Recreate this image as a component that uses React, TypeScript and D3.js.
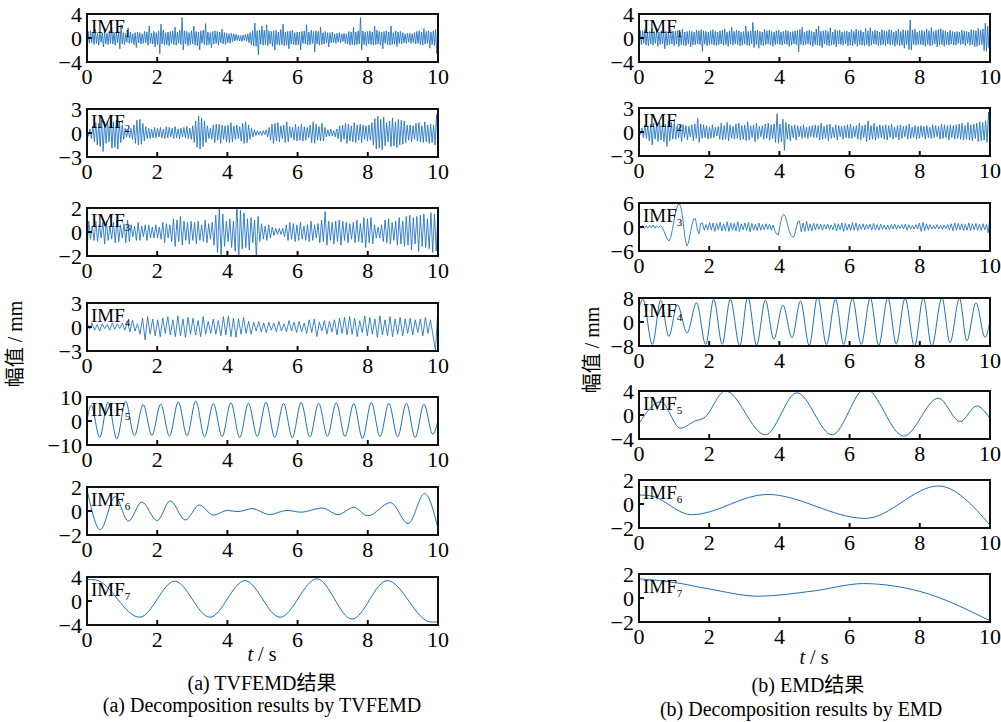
import * as d3 from 'd3';

// time axis ticks (s) and symmetric y limits per subplot
const xTicks = [0, 2, 4, 6, 8, 10];
const leftLimits = [4, 3, 2, 3, 10, 2, 4];
const rightLimits = [4, 3, 6, 8, 4, 2, 2];

// ---- TVFEMD (left column), equally spaced samples over 0..10 s ----
const imf1A = [
  -2.0, 1.1, -0.9, 1.2, -0.8, 1.0, -1.1, 1.5, -0.9, 0.8, -1.2, 1.0, -0.7, 0.9, -1.5, 1.1, -1.0, 0.8, -1.1, 1.2, -0.9, 1.8, -1.0, 0.9, -1.2, 1.0, -0.8, 1.1, -1.8, 2.2,
  -1.0, 0.9, -1.1, 0.8, -0.7, 1.7, -0.9, 1.0, -0.8, 0.7, -1.1, 0.9, -1.6, 1.0, -0.8, 0.9, -1.0, 0.7, -0.9, 1.1, -0.8, 1.0, -1.2, 2.0, -0.9, 0.8, -1.0, 1.1, -1.5, 0.9,
  -1.1, 1.2, -2.6, 2.3, -1.0, 1.3, -1.2, 0.9, -1.1, 1.0, -1.3, 1.1, -0.9, 1.2, -1.1, 1.8, -1.2, 1.0, -0.9, 1.3, -1.1, 3.4, -2.0, 1.2, -1.0, 1.1, -1.3, 0.9, -1.1, 1.2,
  -1.0, 2.0, -1.2, 1.1, -1.3, 1.0, -2.0, 1.2, -0.9, 1.3, -1.1, 2.4, -1.2, 1.0, -1.1, 0.9, -1.6, 1.1, -1.0, 1.2, -0.9, 1.1, -1.2, 1.0, -0.8, 1.5, -1.0, 0.9, -1.1, 0.8,
  -0.8, 0.7, -0.9, 0.8, -0.6, 0.7, -0.5, 0.6, -0.4, 0.5, -0.5, 0.4, -0.6, 0.5, -0.4, 0.6, -0.5, 0.7, -0.8, 0.9, -1.1, 1.2, -1.3, 2.5, -1.4, 1.2, -2.8, 1.3, -1.0, 2.0,
  -1.2, 1.3, -1.1, 2.2, -1.3, 1.2, -1.0, 1.1, -1.4, 1.2, -2.0, 1.3, -1.1, 1.0, -1.2, 1.4, -1.1, 2.3, -1.3, 1.0, -1.2, 1.1, -1.8, 1.2, -1.0, 1.3, -1.1, 0.9, -1.2, 1.0,
  -1.1, 1.0, -2.0, 1.1, -0.9, 1.2, -1.0, 2.2, -1.2, 1.0, -1.1, 1.3, -0.9, 1.1, -2.3, 1.2, -1.0, 1.1, -1.2, 1.8, -1.1, 0.9, -1.0, 1.1, -0.8, 0.9, -1.5, 0.9, -0.8, 1.0,
  -0.8, 0.7, -0.9, 0.8, -0.7, 0.9, -0.8, 0.7, -0.6, 0.8, -0.9, 0.7, -1.0, 1.1, -1.2, 1.0, -1.1, 1.8, -1.2, 1.0, -1.1, 1.2, -1.0, 3.4, -2.0, 1.2, -1.1, 1.0, -1.3, 1.1,
  -1.0, 1.2, -1.1, 1.0, -1.2, 2.0, -1.1, 1.3, -1.0, 1.1, -1.2, 1.0, -1.8, 1.1, -0.9, 1.2, -1.1, 1.0, -1.2, 2.0, -1.1, 0.9, -1.0, 1.2, -1.4, 1.0, -0.9, 1.1, -1.0, 0.9,
  -0.8, 0.7, -0.9, 0.8, -0.7, 0.8, -0.9, 0.7, -0.8, 0.9, -1.0, 1.1, -0.9, 1.2, -1.1, 1.0, -1.2, 1.6, -1.0, 1.1, -0.9, 1.2, -1.7, 1.0, -1.1, 1.2, -1.3, 1.4, -2.6, 2.3,
];

const imf2A = [
  0.3, -0.4, 0.5, -0.7, 0.9, -1.1, 1.3, -1.5, 1.2, -1.7, 1.6, -2.3, 1.4, -1.3, 1.5, -1.1, 1.7, -1.9, 1.4, -1.8, 1.6, -2.0, 1.5, -1.2,
  1.0, -0.8, 0.6, -0.5, 0.5, -0.6, 0.6, -0.8, 1.0, -1.3, 1.6, -1.5, 1.7, -1.4, 1.2, -1.0, 0.8, -0.7, 0.6, -0.7, 0.5, -0.6, 0.7, -0.6,
  0.6, -0.5, 0.7, -0.6, 0.5, -0.7, 0.8, -0.6, 0.7, -0.5, 0.6, -0.7, 0.8, -0.6, 0.5, -0.7, 0.6, -0.5, 0.7, -0.6, 0.8, -0.7, 0.6, -0.8,
  0.9, -1.2, 1.5, -1.8, 2.1, -2.0, 1.9, -1.7, 1.5, -1.2, 0.9, -0.7, 0.6, -0.8, 1.0, -1.2, 1.1, -0.9, 1.1, -1.3, 1.0, -0.8, 0.9, -1.1,
  1.0, -1.2, 1.3, -1.1, 0.9, -0.8, 1.0, -0.7, 0.8, -1.0, 1.2, -1.3, 1.4, -1.2, 1.0, -0.8, 0.6, -0.5, 0.4, -0.3, 0.3, -0.2, 0.2, -0.3,
  0.3, -0.2, 0.4, -0.5, 0.7, -0.9, 1.1, -1.3, 1.2, -1.0, 1.3, -1.1, 0.9, -0.7, 1.0, -1.2, 1.4, -1.1, 0.8, -0.6, 0.7, -0.9, 1.1, -1.0,
  0.8, -0.9, 1.1, -1.0, 0.8, -0.9, 0.7, -0.6, 1.0, -1.2, 1.4, -1.3, 1.1, -0.9, 0.8, -1.0, 1.2, -1.0, 0.7, -0.5, 0.4, -0.4, 0.5, -0.4,
  0.3, -0.5, 0.5, -0.7, 0.9, -1.1, 1.0, -0.8, 1.2, -1.3, 1.1, -1.0, 0.9, -1.1, 1.3, -1.2, 1.0, -0.9, 1.1, -1.2, 1.0, -0.8, 0.9, -1.0,
  1.0, -0.9, 1.3, -1.5, 1.8, -2.0, 2.1, -1.9, 1.7, -2.1, 2.0, -1.6, 1.3, -1.1, 1.5, -1.7, 1.9, -1.6, 1.4, -1.8, 1.7, -1.5, 1.6, -1.4,
  1.5, -1.2, 1.0, -0.9, 1.0, -1.1, 0.9, -0.8, 1.2, -1.0, 1.3, -1.1, 0.9, -1.2, 1.4, -1.1, 1.0, -1.3, 1.1, -1.2, 1.0, -1.5, 2.3, -2.1,
];

const imf3A = [
  -1.5, 0.9, -0.6, 0.5, -0.7, 0.9, -0.8, 0.6, -0.5, 0.8, -1.0, 0.9, -0.7, 0.5, -0.6, 0.8, -0.9, 1.0, -0.8, 0.6,
  -0.5, 0.7, -0.9, 1.0, -0.8, 0.6, -0.4, 0.5, -0.7, 0.8, -0.7, 0.5, -0.4, 0.6, -0.7, 0.6, -0.5, 0.4, -0.5, 0.6,
  -0.5, 0.4, -0.6, 0.8, -0.9, 0.7, -0.5, 0.6, -0.8, 1.1, -1.2, 1.0, -0.8, 1.3, -1.1, 0.9, -0.7, 0.8, -1.0, 0.9,
  -0.7, 0.8, -1.0, 0.9, -0.7, 0.6, -0.8, 1.0, -0.9, 0.7, -0.6, 0.8, -1.1, 1.4, -1.7, 2.0, -1.9, 1.5, -1.2, 0.9,
  -0.8, 1.1, -1.3, 0.9, -1.6, 2.6, -2.5, 1.8, -1.4, 1.6, -1.3, 1.1, -1.5, 1.2, -0.9, 1.0, -2.0, 1.3, -0.8, 0.7,
  -0.6, 0.5, -0.7, 0.6, -0.5, 0.4, -0.3, 0.3, -0.2, 0.3, -0.2, 0.3, -0.4, 0.6, -0.7, 0.8, -0.6, 0.7, -0.8, 0.6,
  -0.7, 0.8, -0.6, 0.5, -0.7, 0.6, -0.8, 0.9, -0.7, 0.6, -0.5, 0.7, -0.9, 1.0, -0.8, 1.7, -1.1, 0.9, -0.7, 0.8,
  -1.0, 0.9, -0.8, 1.0, -1.1, 0.9, -0.7, 0.8, -0.9, 0.7, -0.6, 0.8, -0.9, 1.0, -0.8, 0.7, -0.9, 1.2, -1.3, 1.1,
  -0.9, 1.2, -1.0, 0.6, -0.5, 0.4, -0.5, 0.6, -0.8, 1.0, -0.9, 1.1, -1.0, 0.8, -0.7, 0.9, -1.1, 1.2, -1.0, 0.9,
  -1.2, 1.3, -1.1, 1.4, -1.5, 1.2, -1.0, 1.3, -1.6, 1.4, -1.2, 1.5, -1.3, 1.1, -1.4, 1.6, -1.7, 1.5, -1.6, 1.8,
];

const imf4A = [
  0.6, -0.3, 0.5, -0.4, 0.3, -0.5, 0.4, -0.2, 0.3, -0.4, 0.5, -0.3, 0.4, -0.2,
  0.5, -0.4, 0.7, -0.6, 0.9, -0.5, 0.4, -0.9, 1.1, -1.6, 1.3, -0.9, 1.0, -1.1,
  0.9, -1.2, 1.1, -0.8, 1.3, -1.0, 0.9, -1.2, 1.4, -1.1, 1.0, -1.3, 1.2, -0.9,
  1.1, -1.0, 0.8, -1.2, 1.3, -0.9, 0.7, -0.8, 1.0, -0.9, 0.8, -1.1, 1.3, -1.0,
  1.4, -1.2, 1.1, -1.3, 1.0, -0.9, 1.2, -0.8, 0.7, -0.9, 0.6, -0.5, 0.7, -0.6,
  0.5, -0.7, 0.6, -0.4, 0.5, -0.6, 0.7, -0.5, 0.4, -0.6, 0.8, -0.5, 0.6, -0.7,
  0.7, -0.6, 0.5, -0.8, 0.9, -0.7, 1.0, -1.2, 0.6, -0.5, 0.8, -0.9, 0.7, -0.6,
  0.9, -1.0, 1.1, -0.8, 1.2, -1.0, 1.3, -0.9, 1.1, -1.2, 0.8, -0.7, 1.4, -1.1,
  1.2, -0.9, 1.0, -1.3, 1.4, -1.0, 0.9, -1.1, 1.3, -1.2, 1.0, -0.9, 1.2, -1.1,
  1.0, -0.8, 1.1, -1.0, 0.9, -0.7, 1.0, -1.1, 1.2, -0.8, 0.9, -1.0, -3.0, 2.6,
];

// smooth modes: extrema [t, value]
const imf5A: [number, number][] = [
  [0, 0.3], [0.12, 6.5], [0.36, -6.8], [0.6, 7.8], [0.85, -7.4], [1.1, 8.2], [1.35, -6.2], [1.6, 6.8],
  [1.85, -6.0], [2.1, 7.0], [2.35, -6.3], [2.6, 7.9], [2.85, -6.1], [3.1, 8.3], [3.35, -6.6], [3.6, 7.2],
  [3.85, -6.5], [4.1, 7.6], [4.35, -6.9], [4.6, 7.4], [4.85, -6.4], [5.1, 7.8], [5.35, -6.8], [5.6, 7.3],
  [5.85, -6.9], [6.1, 7.7], [6.35, -6.6], [6.6, 7.4], [6.85, -6.3], [7.1, 7.6], [7.35, -6.4], [7.6, 7.2],
  [7.85, -7.3], [8.1, 7.7], [8.35, -6.5], [8.6, 7.3], [8.85, -6.6], [9.1, 7.4], [9.35, -6.9], [9.6, 7.0],
  [9.85, -5.5], [10, 0.2],
];
const imf6A: [number, number][] = [
  [0, 1.8], [0.38, -1.55], [0.8, 1.2], [1.18, -0.85], [1.56, 0.75], [2.0, -0.8], [2.37, 0.85], [2.8, -0.75],
  [3.2, 0.5], [3.6, -0.35], [4.0, 0.05], [4.3, -0.05], [4.7, 0.2], [5.2, -0.3], [5.7, 0.05], [6.1, -0.1],
  [6.7, 0.25], [7.15, -0.3], [7.6, 0.3], [8.0, -0.4], [8.65, 0.7], [9.15, -1.05], [9.62, 1.45], [10, -1.45],
];
const imf7A: [number, number][] = [
  [0, 3.6], [0.25, 3.5], [1.5, -2.7], [2.5, 3.3], [3.5, -2.7], [4.5, 3.4], [5.5, -2.7],
  [6.55, 3.7], [7.55, -3.0], [8.55, 3.4], [9.8, -3.5], [10, -3.5],
];

// ---- EMD (right column) ----
const imf1B = [
  -2.0, 1.3, -1.1, 1.2, -0.9, 1.4, -1.2, 1.0, -1.3, 1.1, -1.0, 1.6, -1.2, 1.1, -0.9, 1.3, -1.4, 1.0, -1.1, 1.2, -1.0, 1.3, -1.8, 1.1, -1.2, 1.0, -1.1, 1.4, -1.0, 1.2,
  -1.3, 1.1, -1.0, 1.2, -1.4, 1.0, -1.1, 1.5, -1.2, 1.0, -1.3, 1.1, -1.0, 1.2, -1.5, 1.1, -1.2, 1.0, -1.1, 1.3, -1.0, 1.2, -1.1, 1.4, -2.2, 1.2, -1.0, 1.1, -1.3, 1.0,
  -1.1, 1.2, -1.0, 1.4, -1.2, 1.1, -1.3, 1.0, -1.1, 1.2, -1.0, 1.3, -1.2, 1.5, -1.1, 1.0, -1.4, 1.2, -1.0, 1.8, -1.2, 1.1, -1.0, 1.3, -1.1, 1.2, -1.3, 1.0, -1.2, 1.1,
  -1.0, 2.0, -1.2, 1.1, -1.3, 1.2, -1.0, 2.6, -1.6, 1.2, -1.1, 1.3, -1.7, 1.1, -1.2, 1.0, -1.3, 1.5, -1.1, 1.2, -1.0, 1.3, -1.2, 1.1, -1.4, 1.0, -1.1, 1.2, -1.0, 1.3,
  -1.1, 1.0, -1.2, 1.1, -1.0, 1.3, -1.1, 1.2, -1.4, 1.0, -1.2, 1.1, -1.0, 1.2, -1.1, 1.3, -2.3, 1.4, -1.1, 1.8, -1.2, 1.0, -1.1, 1.2, -1.0, 1.3, -1.2, 1.1, -1.4, 1.0,
  -1.1, 1.5, -1.2, 2.0, -1.3, 1.1, -1.6, 1.2, -1.0, 1.3, -1.2, 1.1, -1.3, 1.7, -1.2, 1.0, -1.1, 1.4, -1.5, 1.2, -1.0, 1.3, -1.1, 1.0, -1.2, 1.1, -1.0, 1.2, -1.3, 1.0,
  -1.2, 1.4, -1.3, 1.1, -1.0, 1.5, -1.4, 1.2, -1.1, 1.3, -1.2, 1.0, -1.3, 1.6, -1.1, 1.2, -1.4, 1.7, -1.2, 1.1, -1.0, 1.3, -1.1, 1.2, -1.3, 1.0, -1.2, 1.4, -1.1, 1.2,
  -1.3, 1.1, -1.0, 1.4, -1.2, 1.3, -1.1, 1.0, -1.4, 1.2, -1.1, 1.5, -1.3, 1.1, -1.2, 1.4, -1.7, 1.2, -1.1, 1.3, -1.9, 3.0, -2.0, 1.3, -1.1, 1.5, -1.2, 1.0, -1.1, 1.2,
  -1.1, 1.3, -1.2, 1.1, -1.4, 1.5, -1.1, 1.2, -1.3, 1.7, -1.2, 1.1, -1.0, 1.3, -1.5, 1.4, -1.2, 1.6, -1.1, 1.3, -1.4, 1.2, -1.1, 1.0, -1.2, 1.3, -1.0, 1.1, -1.2, 1.0,
  -1.2, 1.1, -0.9, 1.0, -1.1, 1.3, -1.0, 1.2, -1.3, 1.1, -0.9, 1.0, -1.2, 1.4, -1.1, 1.3, -1.5, 1.2, -1.4, 1.6, -1.2, 1.3, -1.1, 1.5, -2.1, 2.5, -2.2, 2.0, -1.6, 2.6,
];

const imf2B = [
  0.2, -0.3, 0.5, -0.7, 0.9, -0.8, 0.7, -1.1, 1.0, -1.6, 1.1, -0.9, 1.0, -1.2, 1.3, -1.0, 0.8, -1.2, 1.0, -1.8, 1.4, -1.1, 1.2, -0.9,
  1.1, -0.9, 0.8, -0.7, 1.0, -1.2, 0.9, -0.7, 0.8, -1.0, 0.7, -0.6, 0.9, -1.1, 1.0, -0.8, 1.7, -1.3, 1.0, -0.8, 0.9, -0.7, 0.8, -0.9,
  0.6, -0.8, 0.9, -0.7, 0.6, -0.5, 0.7, -0.9, 1.1, -1.0, 0.8, -0.9, 1.2, -1.1, 0.9, -0.8, 0.7, -0.9, 1.0, -0.8, 1.1, -1.0, 0.8, -0.9,
  0.9, -1.1, 1.3, -1.0, 0.8, -0.7, 0.9, -1.2, 1.1, -0.9, 0.7, -0.6, 0.8, -0.9, 1.0, -0.8, 1.1, -1.0, 0.9, -0.8, 1.0, -1.3, 2.3, -1.4,
  1.0, -1.2, 1.6, -2.3, 1.2, -0.9, 1.0, -1.1, 0.8, -0.7, 0.9, -1.0, 0.8, -0.6, 0.7, -0.8, 0.9, -0.7, 0.6, -0.8, 0.7, -0.6, 0.8, -0.7,
  0.9, -0.7, 0.8, -1.0, 1.1, -0.9, 0.7, -0.8, 0.9, -1.1, 1.0, -0.8, 0.6, -0.7, 0.9, -1.0, 0.8, -0.6, 0.7, -0.9, 0.8, -0.7, 0.9, -0.8,
  1.0, -0.8, 0.7, -0.6, 0.8, -0.9, 1.1, -1.0, 0.8, -0.7, 0.9, -1.2, 1.4, -1.0, 0.8, -0.9, 1.1, -1.0, 0.7, -0.8, 0.9, -0.7, 0.8, -0.9,
  0.9, -1.0, 0.8, -0.7, 1.0, -0.9, 0.6, -0.7, 0.8, -1.0, 0.9, -0.8, 0.7, -0.6, 0.8, -0.9, 1.0, -0.8, 0.6, -0.7, 0.8, -0.9, 0.7, -0.8,
  0.8, -0.6, 0.7, -0.9, 0.8, -0.7, 0.6, -0.8, 0.9, -0.7, 0.8, -0.6, 0.7, -0.9, 1.0, -0.8, 0.9, -0.7, 0.8, -1.0, 0.9, -0.7, 0.8, -0.9,
  0.9, -0.8, 1.0, -0.9, 1.1, -1.0, 0.8, -0.9, 1.2, -1.0, 0.9, -1.1, 1.0, -0.8, 1.1, -1.2, 1.3, -1.1, 1.2, -1.0, 1.4, -1.3, 2.5, -2.2,
];

const imf3B = [
  0.6, -0.3, 0.4, -0.4, 0.3, -0.3, 0.4, -0.2, 0.5, -0.3, 0.3, -0.2, 0.3, 0.0, -0.9, -2.0, -3.0, -3.5, -2.6, -0.5,
  2.0, 4.2, 5.5, 5.8, 4.5, 1.5, -2.5, -4.8, -4.0, -1.8, 0.5, 2.0, 2.1, -0.5, -1.7, 0.9, 1.0, -0.8, 0.6, -0.7,
  1.1, -0.8, 1.0, -1.1, 0.9, -0.7, 1.2, -1.0, 0.8, -0.9, 1.3, -1.1, 1.0, -0.8, 0.9, -1.0, 1.3, -1.1, 0.8, -0.7,
  1.0, -0.9, 1.1, -1.2, 0.9, -0.8, 0.7, -0.9, 1.0, -0.8, 0.6, -0.7, 0.8, -0.6, 0.7, -0.8, 0.5, -0.9, -1.8, -2.0,
  0.5, 2.5, 3.2, 2.6, 1.0, -0.8, -2.0, -2.5, -2.3, -0.5, 1.3, 1.5, -1.2, 1.0, -1.1, 1.4, -0.9, 0.8, -1.0, 0.9,
  -0.7, 0.8, -0.6, 0.7, -0.8, 0.6, -0.5, 0.7, -0.6, 0.5, -0.7, 0.9, -1.0, 0.8, -0.7, 1.0, -1.1, 0.9, -0.8, 0.7,
  -0.9, 1.1, -0.8, 1.0, -0.9, 0.7, -0.6, 0.8, -0.7, 0.6, -0.5, 0.7, -0.8, 0.9, -0.7, 0.6, -0.8, 0.7, -0.6, 0.5,
  -0.6, 0.5, -0.7, 0.6, -0.5, 0.7, -0.6, 0.5, -0.4, 0.6, -0.5, 0.7, -0.8, 0.6, -0.5, 0.4, -0.5, 0.6, -0.5, 1.0,
  -1.1, 1.2, -0.9, 0.8, -0.7, 0.6, -0.5, 0.4, -0.5, 0.6, -0.5, 0.4, -0.6, 0.5, -0.4, 0.6, -0.7, 0.8, -0.9, 1.0,
  -0.8, 0.9, -0.7, 0.8, -0.9, 0.7, -0.8, 1.0, -0.9, 0.8, -0.7, 0.9, -0.8, 0.7, -0.9, 0.8, -0.7, 0.6, -1.5, 2.8,
];

const imf4B: [number, number][] = [
  [0, 4.5], [0.11, 7.6], [0.38, -7.5], [0.62, 7.3], [0.85, -4.8], [1.09, 5.8], [1.37, -3.6], [1.64, 6.4],
  [1.9, -7.5], [2.13, 7.6], [2.37, -7.4], [2.6, 7.6], [2.87, -8.0], [3.1, 8.5], [3.35, -7.7], [3.6, 7.3],
  [3.84, -5.7], [4.1, 5.6], [4.36, -5.3], [4.6, 7.0], [4.85, -7.8], [5.09, 8.5], [5.34, -7.5], [5.6, 7.6],
  [5.83, -7.5], [6.08, 7.9], [6.33, -7.5], [6.59, 8.1], [6.83, -7.8], [7.09, 8.1], [7.33, -7.3], [7.58, 7.9],
  [7.85, -8.2], [8.1, 8.1], [8.34, -8.2], [8.63, 8.1], [8.86, -6.9], [9.13, 7.9], [9.34, -6.3], [9.6, 6.4],
  [9.86, -5.1], [10, 0.4],
];
const imf5B: [number, number][] = [
  [0, -1.4], [0.62, 2.2], [1.18, -2.2], [1.6, -1.0], [1.85, -0.5], [2.46, 4.0], [3.6, -3.3], [4.5, 3.7],
  [5.5, -3.3], [6.45, 4.4], [7.54, -3.5], [8.53, 2.8], [9.15, -1.1], [9.62, 1.5], [10, -0.6],
];
const imf6B: [number, number][] = [
  [0, 0.75], [0.3, 0.7], [1.5, -0.9], [3.65, 0.8], [6.45, -1.2], [8.53, 1.5], [10, -1.75],
];
const imf7B: [number, number][] = [
  [0, 1.6], [1, 1.3], [2, 0.75], [3.4, 0.15], [5, 0.6], [6.4, 1.2], [8, 0.55], [10, -1.9],
];

const leftSeries = [imf1A, imf2A, imf3A, imf4A, imf5A, imf6A, imf7A];
const rightSeries = [imf1B, imf2B, imf3B, imf4B, imf5B, imf6B, imf7B];

const FONT = '"Liberation Serif", "Times New Roman", "Noto Sans CJK SC", serif';
const BLUE = '#1a6fc0';

const leftTops = [14, 109, 208, 303, 397, 487, 577];
const rightTops = [14, 108, 203, 298, 391, 480, 574];
const fmt = (v: number) => (v < 0 ? '\u2212' + Math.abs(v) : String(v));

function Panel({ x0, x1, top, h, lim, data, n, id }: any) {
  const xs = d3.scaleLinear().domain([0, 10]).range([x0, x1]);
  const ys = d3.scaleLinear().domain([-lim, lim]).range([top + h, top]);
  const smooth = typeof data[0] !== 'number';
  let d: string | null;
  if (!smooth) {
    const ts = d3.scaleLinear().domain([0, data.length - 1]).range([0, 10]);
    d = d3.line<number>().x((_, i) => xs(ts(i))).y((v) => ys(v))(data);
  } else {
    d = d3
      .line<[number, number]>()
      .x((p) => xs(p[0]))
      .y((p) => ys(p[1]))
      .curve(d3.curveMonotoneX)(data);
  }
  return (
    <g>
      <clipPath id={id}>
        <rect x={x0} y={top} width={x1 - x0} height={h} />
      </clipPath>
      <path d={d ?? ''} fill="none" stroke={BLUE} strokeWidth={smooth ? 1 : 0.85} clipPath={`url(#${id})`} />
      <rect x={x0} y={top} width={x1 - x0} height={h} fill="none" stroke="#111" strokeWidth={2} />
      {xTicks.slice(1, -1).map((t) => (
        <line key={t} x1={xs(t)} x2={xs(t)} y1={top + h} y2={top + h - 5} stroke="#111" strokeWidth={2} />
      ))}
      <line x1={x0} x2={x0 + 5} y1={ys(0)} y2={ys(0)} stroke="#111" strokeWidth={2} />
      {[lim, 0, -lim].map((v) => (
        <text key={v} x={x0 - 5} y={ys(v)} dy="0.35em" textAnchor="end" fontSize={22} fontFamily={FONT}>
          {fmt(v)}
        </text>
      ))}
      {xTicks.map((t) => (
        <text key={t} x={xs(t)} y={top + h + 22} textAnchor="middle" fontSize={22} fontFamily={FONT}>
          {t}
        </text>
      ))}
      <text x={x0 + 4} y={top + 19} fontSize={19} fontFamily={FONT}>
        IMF
        <tspan fontSize={11} dy={4}>
          {n}
        </tspan>
      </text>
    </g>
  );
}

export default function App() {
  const colL = { x0: 87, x1: 438 };
  const colR = { x0: 639, x1: 990 };
  return (
    <svg width={1001} height={722} style={{ position: 'absolute', left: 0, top: 0, background: '#fff' }}>
      <rect width={1001} height={722} fill="#fff" />
      {leftSeries.map((s, i) => (
        <Panel key={'a' + i} {...colL} top={leftTops[i]} h={48} lim={leftLimits[i]} data={s} n={i + 1} id={'ca' + i} />
      ))}
      {rightSeries.map((s, i) => (
        <Panel key={'b' + i} {...colR} top={rightTops[i]} h={48} lim={rightLimits[i]} data={s} n={i + 1} id={'cb' + i} />
      ))}
      <text transform="translate(22,344) rotate(-90)" textAnchor="middle" fontSize={20} fontFamily={FONT}>
        幅值 / mm
      </text>
      <text transform="translate(599,350) rotate(-90)" textAnchor="middle" fontSize={20} fontFamily={FONT}>
        幅值 / mm
      </text>
      <text x={262} y={661} textAnchor="middle" fontSize={20} fontFamily={FONT}>
        <tspan fontStyle="italic">t</tspan> / s
      </text>
      <text x={814} y={664} textAnchor="middle" fontSize={20} fontFamily={FONT}>
        <tspan fontStyle="italic">t</tspan> / s
      </text>
      <text x={262} y={690} textAnchor="middle" fontSize={20} fontFamily={FONT}>
        (a) TVFEMD结果
      </text>
      <text x={262} y={712} textAnchor="middle" fontSize={20} fontFamily={FONT}>
        (a) Decomposition results by TVFEMD
      </text>
      <text x={808} y={692} textAnchor="middle" fontSize={20} fontFamily={FONT}>
        (b) EMD结果
      </text>
      <text x={801} y={716} textAnchor="middle" fontSize={20} fontFamily={FONT}>
        (b) Decomposition results by EMD
      </text>
    </svg>
  );
}
